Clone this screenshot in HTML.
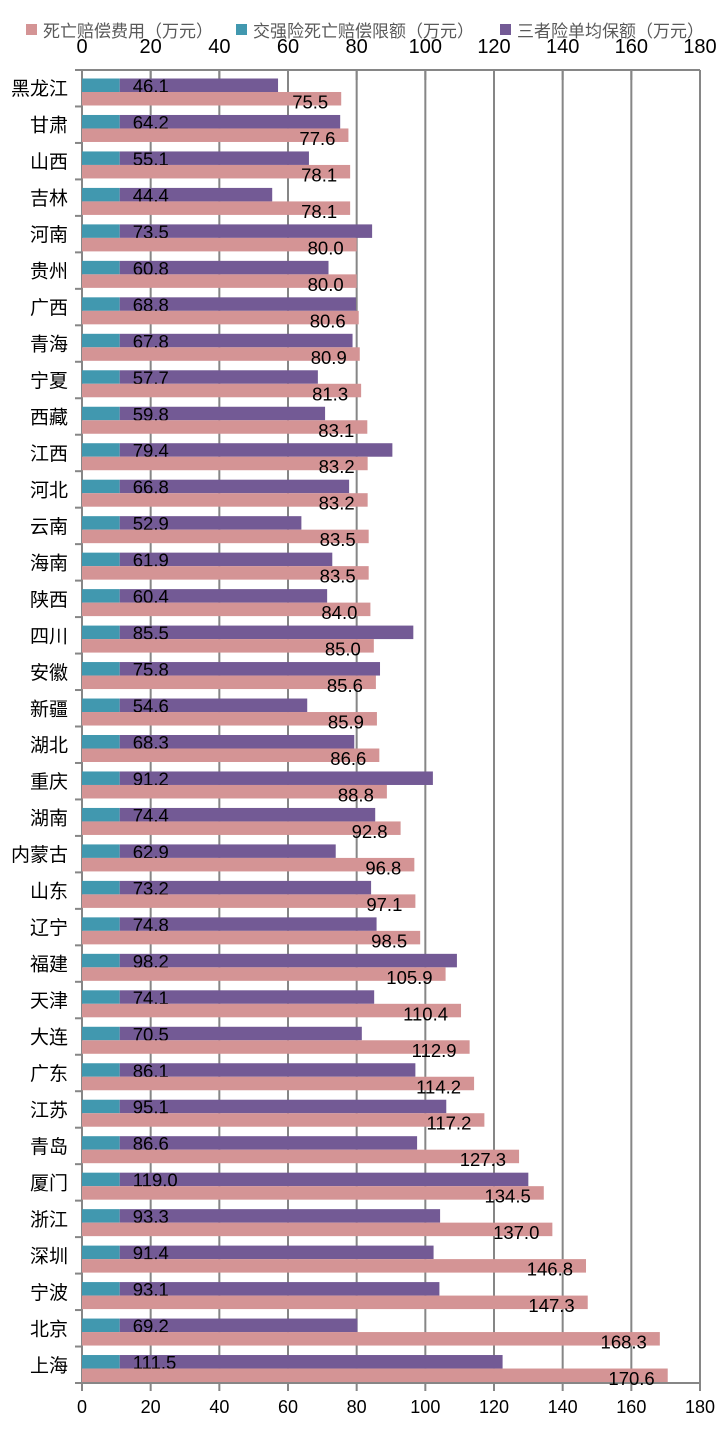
<!DOCTYPE html>
<html><head><meta charset="utf-8"><style>
body{margin:0;background:#fff;}
svg text{font-family:"Liberation Sans","Noto Sans CJK SC",sans-serif;}
</style></head><body>
<svg id="c" width="724" height="1428" xmlns="http://www.w3.org/2000/svg"></svg>
<script>
const categories=["黑龙江","甘肃","山西","吉林","河南","贵州","广西","青海","宁夏","西藏","江西","河北","云南","海南","陕西","四川","安徽","新疆","湖北","重庆","湖南","内蒙古","山东","辽宁","福建","天津","大连","广东","江苏","青岛","厦门","浙江","深圳","宁波","北京","上海"];
const deathComp=[75.5,77.6,78.1,78.1,80.0,80.0,80.6,80.9,81.3,83.1,83.2,83.2,83.5,83.5,84.0,85.0,85.6,85.9,86.6,88.8,92.8,96.8,97.1,98.5,105.9,110.4,112.9,114.2,117.2,127.3,134.5,137.0,146.8,147.3,168.3,170.6];
const thirdParty=[46.1,64.2,55.1,44.4,73.5,60.8,68.8,67.8,57.7,59.8,79.4,66.8,52.9,61.9,60.4,85.5,75.8,54.6,68.3,91.2,74.4,62.9,73.2,74.8,98.2,74.1,70.5,86.1,95.1,86.6,119.0,93.3,91.4,93.1,69.2,111.5];
const compulsory=11;
const ticks=[0,20,40,60,80,100,120,140,160,180];
const legendLabels=["死亡赔偿费用（万元）","交强险死亡赔偿限额（万元）","三者险单均保额（万元）"];

const svg=document.getElementById('c');
const NS="http://www.w3.org/2000/svg";
const X0=82,X1=700,Y0=70,Y1=1383,MAX=180;
const band=(Y1-Y0)/categories.length;
const x=v=>X0+v/MAX*(X1-X0);
const yb=i=>Y0+i*band;
const SERIF='"Noto Serif CJK SC","Liberation Serif",serif';
function mk(t,a,txt){const e=document.createElementNS(NS,t);for(const k in a)e.setAttribute(k,a[k]);if(txt!=null)e.textContent=txt;svg.appendChild(e);return e;}

ticks.forEach(t=>{
  const g=mk('line',{x1:x(t),x2:x(t),y1:Y0,y2:Y1+8,stroke:'#868686','stroke-width':2});
  
  
  const g2=mk('line',{x1:x(t),x2:x(t),y1:Y0,y2:Y0+10,stroke:'#868686','stroke-width':2});
  
  
  const tt=mk('text',{x:x(t),y:53,'font-size':20,'text-anchor':'middle',fill:'#000'},t);
  
  
  const bt=mk('text',{x:x(t),y:1413,'font-size':18,'text-anchor':'middle',fill:'#000'},t);
  
  
});
const ta=mk('line',{x1:X0,x2:X1,y1:Y0,y2:Y0,stroke:'#868686','stroke-width':2});


const ba=mk('line',{x1:X0,x2:X1,y1:Y1,y2:Y1,stroke:'#868686','stroke-width':2});


for(let i=0;i<=categories.length;i++){
  const tk=mk('line',{x1:X0-7,x2:X0,y1:yb(i),y2:yb(i),stroke:'#868686','stroke-width':2});
  
  
}

categories.forEach((c,i)=>{
  const top=yb(i)+8.5, h=13.5;
  const lab=mk('text',{x:68,y:yb(i)+band/2+7,'font-size':19,'text-anchor':'end',fill:'#000','font-family':SERIF},c);
  
  
  const tb=mk('rect',{x:x(0),y:top,width:x(compulsory)-x(0),height:h,fill:'#4198af'});
  
  
  const pb=mk('rect',{x:x(compulsory),y:top,width:x(compulsory+thirdParty[i])-x(compulsory),height:h,fill:'#735a95'});
  
  
  const pl=mk('text',{x:x(compulsory)+13,y:top+h+0.5,'font-size':18.5,fill:'#000'},thirdParty[i].toFixed(1));
  
  
  const db=mk('rect',{x:x(0),y:top+h,width:x(deathComp[i])-x(0),height:h,fill:'#d49495'});
  
  
  const dl=mk('text',{x:x(deathComp[i])-13,y:top+2*h+3,'font-size':18.5,'text-anchor':'end',fill:'#000'},deathComp[i].toFixed(1));
  
  
});

const lx=[26,236,500], lc=['#d49495','#4198af','#735a95'];
legendLabels.forEach((l,i)=>{
  const s=mk('rect',{x:lx[i],y:24,width:11,height:11,fill:lc[i]});
  
  
  const t=mk('text',{x:lx[i]+17,y:37,'font-size':17,fill:'#595959','font-family':SERIF},l);
  
  
});
</script>
</body></html>
